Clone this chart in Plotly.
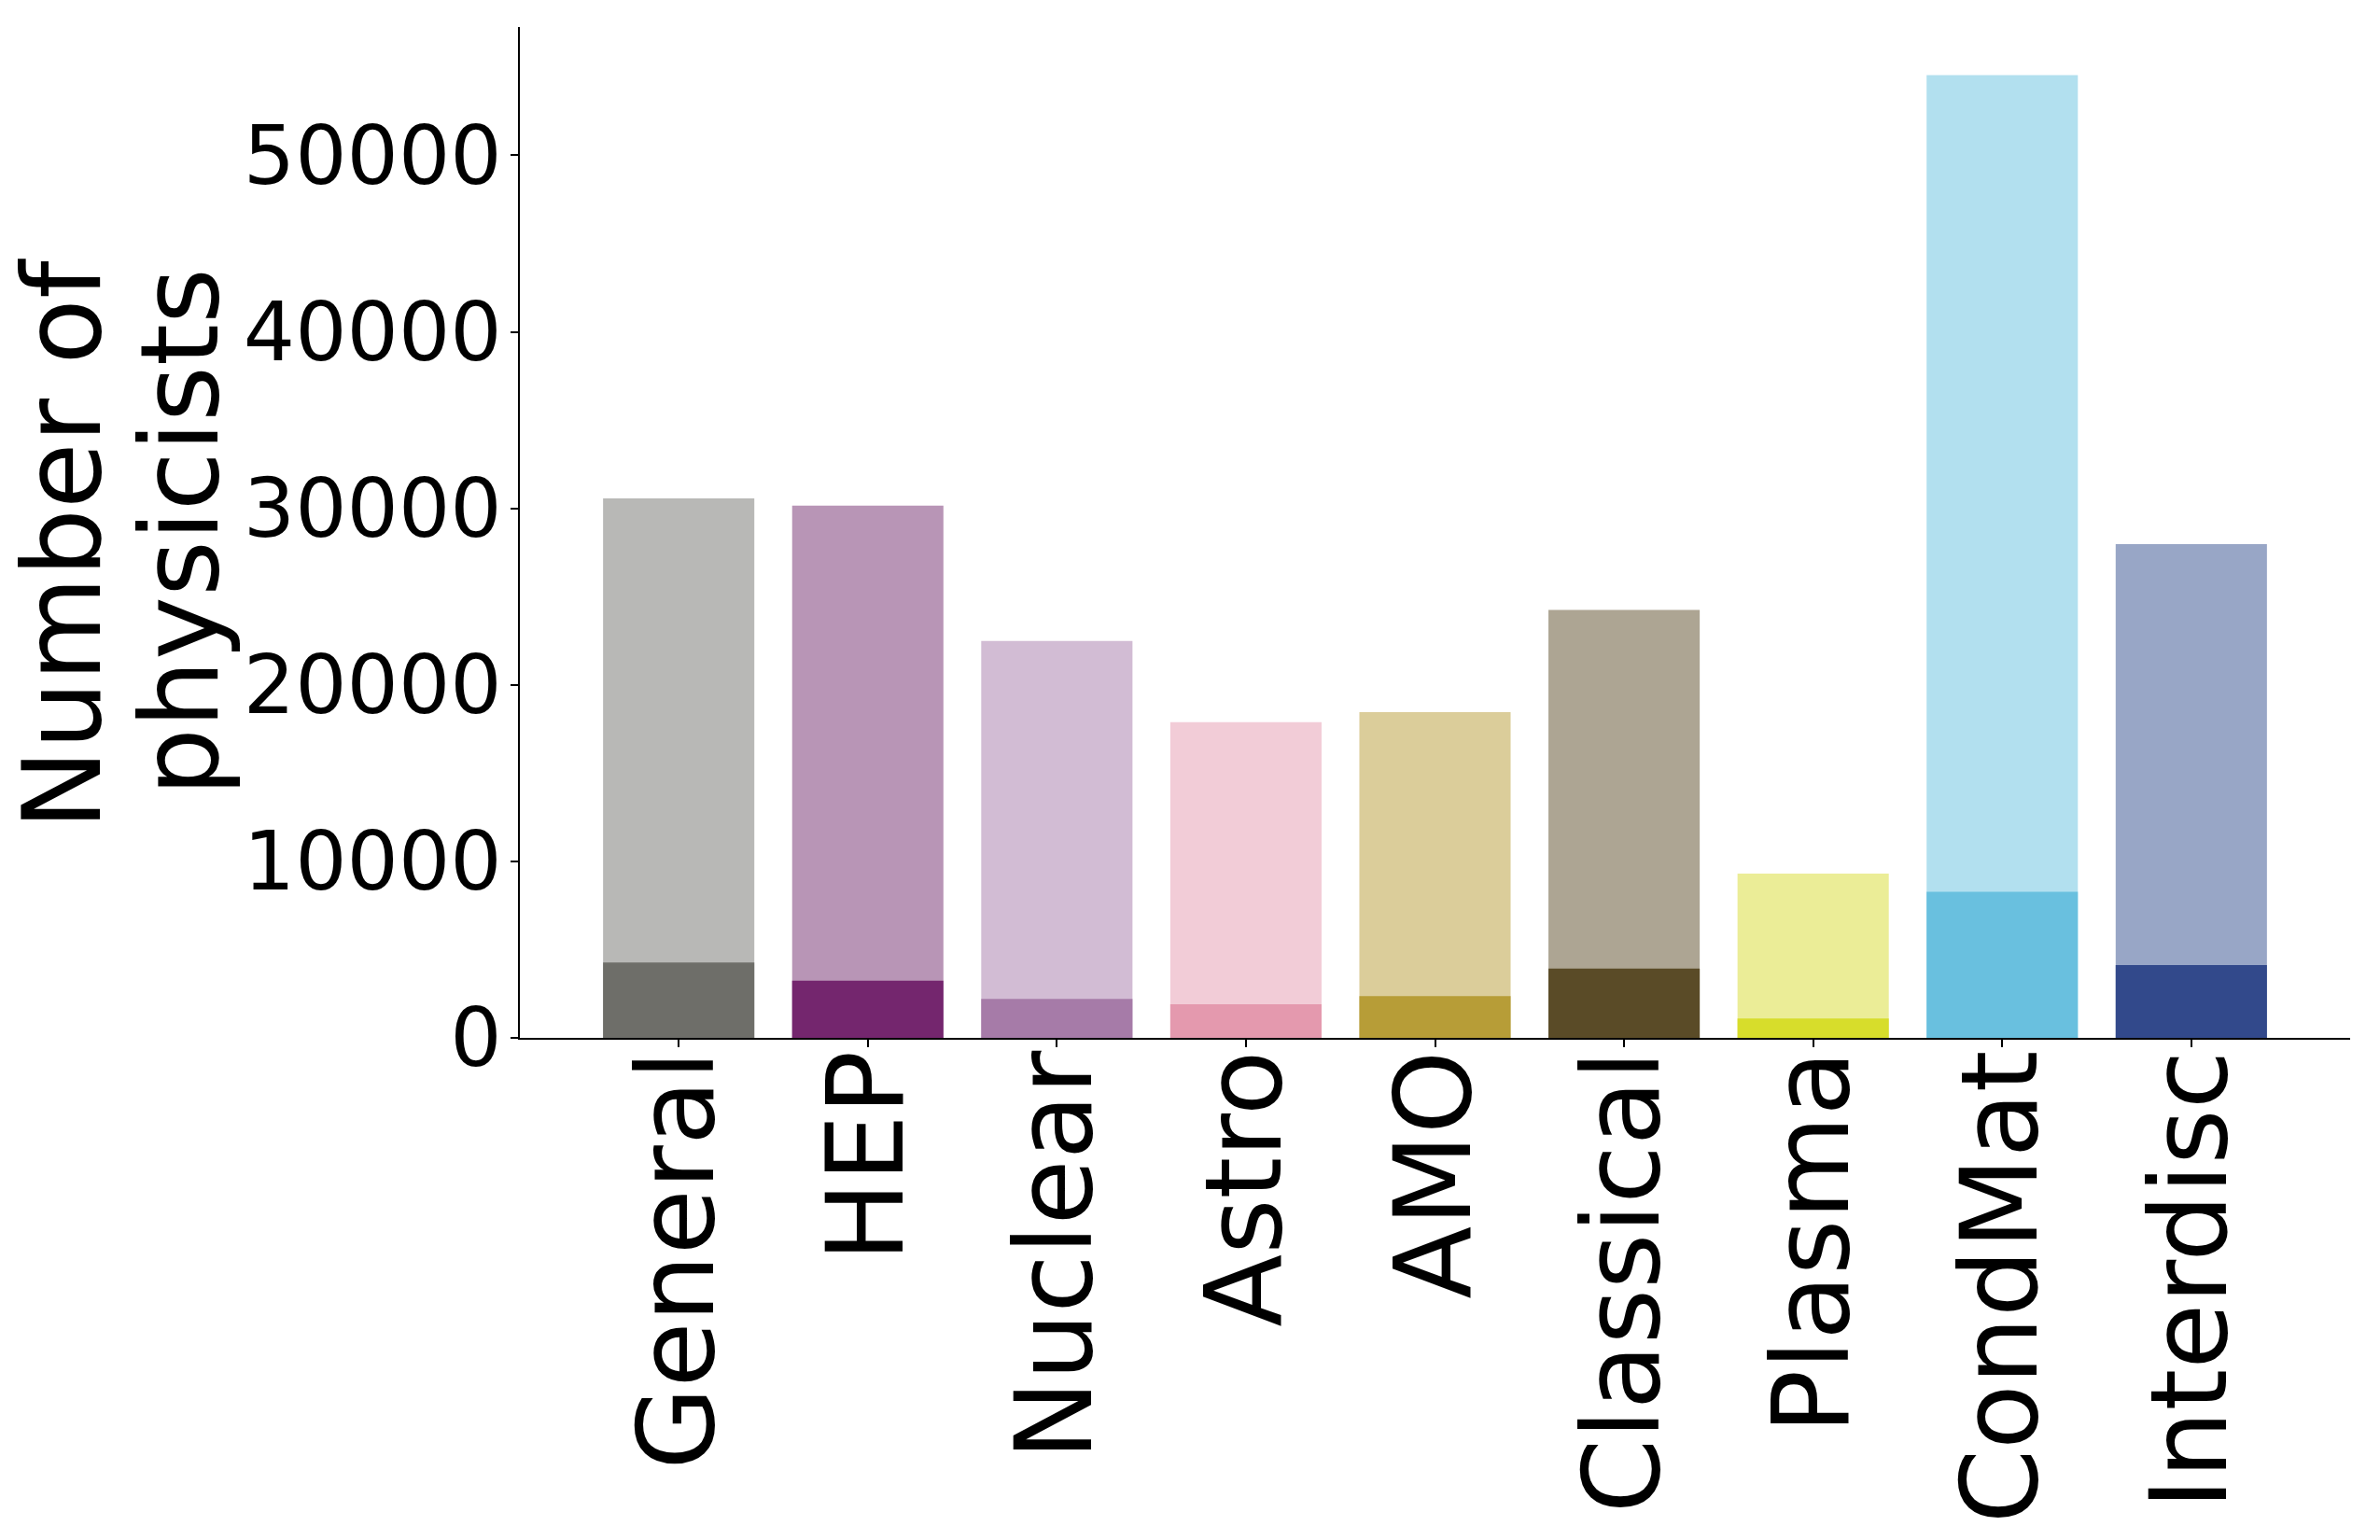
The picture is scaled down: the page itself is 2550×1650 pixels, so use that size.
import plotly.graph_objects as go

categories = ["General", "HEP", "Nuclear", "Astro", "AMO", "Classical", "Plasma", "CondMat", "Interdisc"]
total_physicists = [30560, 30150, 22480, 17880, 18450, 24240, 9300, 54540, 27970]
subset_physicists = [4270, 3240, 2210, 1900, 2360, 3920, 1100, 8270, 4120]
light_colors = ["#b8b8b6", "#b895b6", "#d2bcd4", "#f2ccd7", "#dbcd9a", "#ada593", "#ebed97", "#b2e0ef", "#98a6c6"]
dark_colors = ["#6e6e69", "#74266e", "#a67ba8", "#e499ae", "#b79d37", "#5a4b27", "#d7dd2b", "#69c0df", "#32498b"]
y_ticks = [0, 10000, 20000, 30000, 40000, 50000]
title_lines = ["Number of", "physicists"]

W, H = 2550, 1650
L, R, T, B = 557, 32, 29, 538
PW, PH = W - L - R, H - T - B

fig = go.Figure()
fig.add_trace(go.Bar(x=categories, y=total_physicists, marker=dict(color=light_colors, line=dict(width=0)),
                     width=0.8, showlegend=False))
fig.add_trace(go.Bar(x=categories, y=subset_physicists, marker=dict(color=dark_colors, line=dict(width=0)),
                     width=0.8, showlegend=False))

font = "DejaVu Sans"
title_px = [(67, 583), (193, 570)]
annotations = []
for txt, (px, py) in zip(title_lines, title_px):
    annotations.append(dict(text=txt, textangle=-90, xref="paper", yref="paper",
                            x=(px - L) / PW, y=1 - (py - T) / PH, xanchor="center", yanchor="middle",
                            showarrow=False, font=dict(size=115, family=font, color="black")))

fig.update_layout(
    width=W, height=H,
    margin=dict(l=L, r=R, t=T, b=B, pad=0),
    barmode="overlay",
    paper_bgcolor="white", plot_bgcolor="white",
    font=dict(family=font, color="black"),
    xaxis=dict(range=[-0.84, 8.84], showline=True, linecolor="black", linewidth=2,
               ticks="outside", ticklen=8, tickwidth=2, tickcolor="black", automargin=False,
               ticklabelstandoff=-42,
               tickangle=-90, tickfont=dict(size=114, family=font), showgrid=False, zeroline=False),
    yaxis=dict(range=[0, 57265], showline=True, linecolor="black", linewidth=2,
               ticks="outside", ticklen=8, tickwidth=2, tickcolor="black", automargin=False,
               ticklabelstandoff=-8,
               tickvals=y_ticks, ticktext=[str(v) for v in y_ticks],
               tickfont=dict(size=87, family=font), showgrid=False, zeroline=False),
    annotations=annotations,
)

fig.write_html("out.html")
